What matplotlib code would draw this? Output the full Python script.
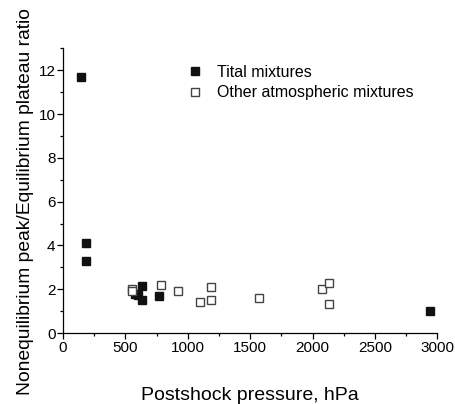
import matplotlib.pyplot as plt
from matplotlib.ticker import MultipleLocator

plt.rcParams['font.family'] = ['Liberation Sans', 'DejaVu Sans']

# Tital mixtures (filled squares)
tital_p = [146, 181, 187, 580, 600, 632, 632, 770, 2940]
tital_r = [11.7, 4.1, 3.3, 1.78, 1.72, 2.15, 1.5, 1.7, 1.02]

# Other atmospheric mixtures (open squares)
other_p = [551, 556, 785, 923, 1102, 1190, 1190, 1571, 2079, 2130, 2130]
other_r = [2.0, 1.92, 2.2, 1.92, 1.42, 2.12, 1.5, 1.61, 2.02, 2.3, 1.31]

fig = plt.figure(figsize=(4.55, 4.04), dpi=100)
ax = fig.add_axes([0.1385, 0.1757, 0.8225, 0.7043])

ax.plot(tital_p, tital_r, 's', ms=5.4, color='#111111', mec='#111111',
        label='Tital mixtures', clip_on=False)
ax.plot(other_p, other_r, 's', ms=5.4, mfc='white', mec='#444444', mew=1.0,
        label='Other atmospheric mixtures', clip_on=False)

ax.set_xlim(0, 3000)
ax.set_ylim(0, 13)
ax.xaxis.set_major_locator(MultipleLocator(500))
ax.xaxis.set_minor_locator(MultipleLocator(250))
ax.yaxis.set_major_locator(MultipleLocator(2))
ax.yaxis.set_minor_locator(MultipleLocator(1))

for s in ['top', 'right']:
    ax.spines[s].set_visible(False)
for s in ['left', 'bottom']:
    ax.spines[s].set_linewidth(0.9)
ax.tick_params(which='major', direction='out', length=4, width=0.9,
               labelsize=11, pad=1.5)
ax.tick_params(which='minor', direction='out', length=2.5, width=0.9)

ax.set_xlabel('Postshock pressure, hPa', fontsize=14, labelpad=23)
fig.text(0.055, 0.5, 'Nonequilibrium peak/Equilibrium plateau ratio',
         rotation=90, fontsize=13.9, ha='center', va='center')

ax.legend(loc='upper left', bbox_to_anchor=(0.314, 0.965), frameon=False,
          fontsize=11.5, handlelength=1.0, handletextpad=0.9,
          labelspacing=0.35, borderaxespad=0)

fig.savefig('out.png', dpi=100)
